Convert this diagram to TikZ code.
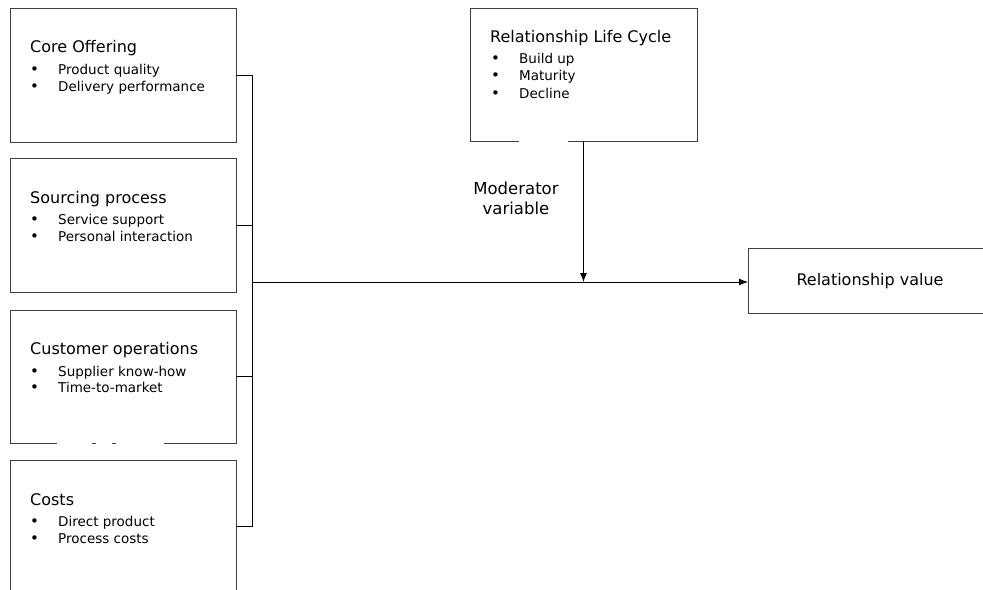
\documentclass[tikz,border=0pt]{standalone}
\usepackage{fontspec}
\setmainfont{DejaVu Sans}
\usetikzlibrary{arrows.meta}

\tikzset{
  area/.style={inner sep=0pt, outer sep=0pt, anchor=north west},
  boxline/.style={draw=black!75, line width=1bp},
  link/.style={draw=black, line width=1bp},
  headtext/.style={inner sep=0pt, anchor=base west, font=\fontsize{16bp}{19bp}\selectfont},
  itemtext/.style={inner sep=0pt, anchor=base west, font=\fontsize{13.5bp}{16bp}\selectfont},
  dot/.style={inner sep=0pt, anchor=base west, font=\fontsize{15bp}{16bp}\selectfont},
  tip/.style={-{Latex[length=9bp,width=7bp]}},
}

\begin{document}
\begin{tikzpicture}[x=1bp, y=-1bp]
\clip (0,0) rectangle (983,590);
\fill[white] (0,0) rectangle (983,590);

% box geometry
\node[area, minimum width=226bp, minimum height=133bp] (core)    at (10,9)   {};
\node[area, minimum width=226bp, minimum height=133bp] (source)  at (10,159) {};
\node[area, minimum width=226bp, minimum height=133bp] (custops) at (10,310) {};
\node[area, minimum width=226bp, minimum height=133bp] (costs)   at (10,460) {};
\node[area, minimum width=227bp, minimum height=132bp] (rlc)     at (470,9)  {};
\node[area, minimum width=247bp, minimum height=64bp]  (value)   at (748,249) {};

% box outlines
\draw[boxline] (core.north west) rectangle (core.south east);
\draw[boxline] (source.north west) rectangle (source.south east);
\draw[boxline] (custops.south west) -- ++(47,0);
\draw[boxline] ([xshift=82bp]custops.south west) -- ++(4,0);
\draw[boxline] ([xshift=102bp]custops.south west) -- ++(4,0);
\draw[boxline] ([xshift=-72bp]custops.south east) -- (custops.south east)
  -- (custops.north east) -- (custops.north west) -- (custops.south west);
\draw[boxline] (costs.south west) -- (costs.north west) -- (costs.north east) -- (costs.south east);
\draw[boxline] (rlc.south west) -- ++(49,0);
\draw[boxline] ([xshift=-129bp]rlc.south east) -- (rlc.south east)
  -- (rlc.north east) -- (rlc.north west) -- (rlc.south west);
\draw[boxline] (value.north east) -- (value.north west) -- (value.south west) -- (value.south east);

% texts of the driver boxes
\node[headtext] (coreT) at (30,53) {Core Offering};
\node[dot] (coreB1) at (30,75) {•};
\node[itemtext] (coreI1) at (58,75) {Product quality};
\node[dot] (coreB2) at (30,91.5) {•};
\node[itemtext] (coreI2) at (58,91.5) {Delivery performance};

\node[headtext] (sourceT) at (30,203.5) {Sourcing process};
\node[dot] (sourceB1) at (30,225) {•};
\node[itemtext] (sourceI1) at (58,225) {Service support};
\node[dot] (sourceB2) at (30,241.5) {•};
\node[itemtext] (sourceI2) at (58,241.5) {Personal interaction};

\node[headtext] (custopsT) at (30,354.5) {Customer operations};
\node[dot] (custopsB1) at (30,376) {•};
\node[itemtext] (custopsI1) at (58,376) {Supplier know-how};
\node[dot] (custopsB2) at (30,392.5) {•};
\node[itemtext] (custopsI2) at (58,392.5) {Time-to-market};

\node[headtext] (costsT) at (30,505) {Costs};
\node[dot] (costsB1) at (30,526) {•};
\node[itemtext] (costsI1) at (58,526) {Direct product};
\node[dot] (costsB2) at (30,543) {•};
\node[itemtext] (costsI2) at (58,543) {Process costs};

% moderator box texts
\node[headtext] (rlcT) at (490,43) {Relationship Life Cycle};
\node[dot] (rlcB1) at (491,63.5) {•};
\node[itemtext] (rlcI1) at (519,63.5) {Build up};
\node[dot] (rlcB2) at (491,81) {•};
\node[itemtext] (rlcI2) at (519,81) {Maturity};
\node[dot] (rlcB3) at (491,98.5) {•};
\node[itemtext] (rlcI3) at (519,98.5) {Decline};

\node[inner sep=0pt, anchor=base, font=\fontsize{16bp}{19bp}\selectfont] (valueT) at (870,286) {Relationship value};

\node[inner sep=0pt, anchor=base, align=center,
      font=\fontsize{16.5bp}{20bp}\selectfont] (modT) at (516,215) {Moderator\\variable};

% connectors
\coordinate (bus) at (252,282);
\draw[link] (core.east) -- (core.east -| bus) -- (costs.east -| bus) -- (costs.east);
\draw[link] (source.east) -- (source.east -| bus);
\draw[link] (custops.east) -- (custops.east -| bus);
\draw[link, tip] (bus) -- (value.west |- bus);
\draw[link, tip] (rlc.south) -- (rlc.south |- bus);
\end{tikzpicture}
\end{document}
